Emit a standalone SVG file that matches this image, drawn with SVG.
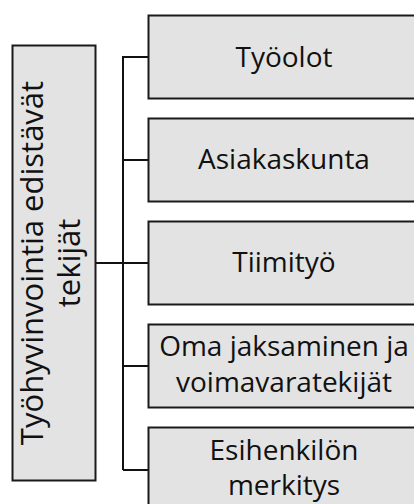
<svg xmlns="http://www.w3.org/2000/svg" width="414" height="504" viewBox="0 0 414 504">
<style>
.box{fill:#e3e3e3;stroke:#1a1a1a;stroke-width:2}
.lbl{font-family:"Open Sans","Noto Sans",sans-serif;font-size:28px;fill:#111;text-anchor:middle}
.big{font-size:31px}
.conn{fill:none;stroke:#111;stroke-width:2}
</style>
<rect width="414" height="504" fill="#ffffff"/>
<g id="connectors">
<path class="conn" d="M96 263H123M123 56V470M123 57H148.5M123 160H148.5M123 263H148.5M123 366H148.5M123 470H148.5"/>
</g>
<g id="root">
<rect class="box" x="12.5" y="45.5" width="83" height="435"/>
<text class="lbl big" transform="translate(54,263) rotate(-90)"><tspan x="0" y="-11">Työhyvinvointia edistävät</tspan><tspan x="0" y="26">tekijät</tspan></text>
</g>
<g id="n1">
<rect class="box" x="148.5" y="15.5" width="272" height="83"/>
<text class="lbl" x="284" y="66.5">Työolot</text>
</g>
<g id="n2">
<rect class="box" x="148.5" y="118.5" width="272" height="83"/>
<text class="lbl" x="284" y="169">Asiakaskunta</text>
</g>
<g id="n3">
<rect class="box" x="148.5" y="221.5" width="272" height="83"/>
<text class="lbl" x="284" y="272">Tiimityö</text>
</g>
<g id="n4">
<rect class="box" x="148.5" y="324.5" width="272" height="83"/>
<text class="lbl" x="284" y="356">Oma jaksaminen ja</text>
<text class="lbl" x="284" y="392">voimavaratekijät</text>
</g>
<g id="n5">
<rect class="box" x="148.5" y="427.5" width="272" height="83"/>
<text class="lbl" x="284" y="460">Esihenkilön</text>
<text class="lbl" x="284" y="495">merkitys</text>
</g>
</svg>
